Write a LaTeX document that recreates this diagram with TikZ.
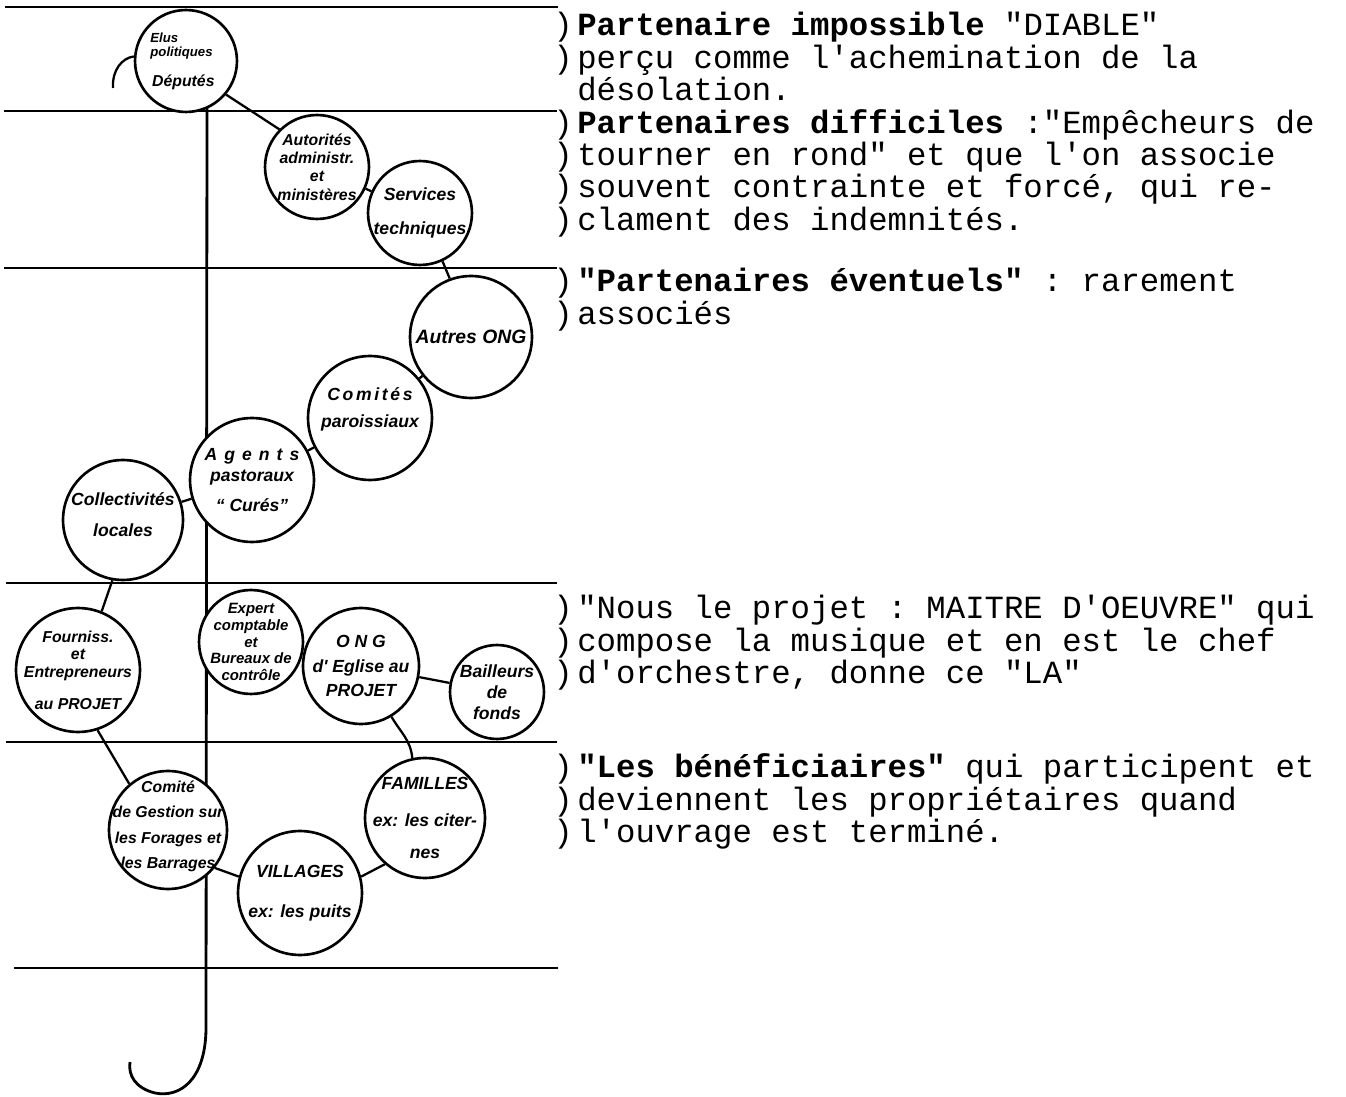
\documentclass[tikz,border=0pt]{standalone}
\usepackage{fontspec}
\setmonofont{Liberation Mono}
\newfontfamily\handfont{Liberation Sans}
\usetikzlibrary{calc}

\tikzset{
  portee/.style={line width=1.6pt},
  bulle/.style={circle, draw, line width=1.5pt, fill=white, inner sep=0pt},
  rayon/.style={minimum size=#1*0.04cm},
  texte/.style={align=center, inner sep=0pt, font=\handfont\bfseries\itshape\fontsize{10}{12}\selectfont},
  taille/.style 2 args={font=\handfont\bfseries\itshape\fontsize{#1}{#2}\selectfont},
  lien/.style={line width=1.3pt},
  ligne/.style={anchor=base west, inner sep=0pt, font=\ttfamily\fontsize{18.4}{18.4}\selectfont},
}
\newcommand{\pf}{\makebox[0.48cm][l]{)}}

\begin{document}
\begin{tikzpicture}[x=0.02cm, y=-0.02cm]
		%%%%% START %%%%%
		\useasboundingbox (0,0) rectangle (1346,1097);
		
		% portee
		\draw[portee] (5,7) -- (558,7);
		\draw[portee] (4,111) -- (557,111);
		\draw[portee] (4,268) -- (557,268);
		\draw[portee] (6,583) -- (557,583);
		\draw[portee] (6,742) -- (557,742);
		\draw[portee] (14,968) -- (558,968);
		
		% tige de la cle
		\draw[portee] (207,108) -- (206,1030) .. controls (205,1080) and (180,1098) .. (155,1093) .. controls (135,1088) and (128,1075) .. (130,1062);
		
		% bulles
		\node[bulle, rayon=51, label={[texte, taille={7.5}{8}, align=left, xshift=-2pt]center:Elus\\politiques\\[8pt]\fontsize{9}{9}\selectfont\hspace*{1pt}Députés}] (elus) at (186,61) {};
		\node[bulle, rayon=52, label={[texte, taille={9}{10.5}]center:Autorités\\administr.\\et\\ministères}] (autor) at (317,167) {};
		\node[bulle, rayon=52, label={[texte]center:Services\\[7pt]techniques}] (serv) at (420,213) {};
		\node[bulle, rayon=61, label={[texte, taille={11}{12}]center:Autres ONG}] (autres) at (471,337) {};
		\node[bulle, rayon=62, label={[texte, yshift=5pt]center:\addfontfeature{LetterSpace=15}Comités\\[3pt]paroissiaux}] (comites) at (370,418) {};
		\node[bulle, rayon=62, label={[texte]center:\addfontfeature{LetterSpace=40}Agents\\pastoraux\\[5pt]“ Curés”}] (agents) at (252,480) {};
		\node[bulle, rayon=60, label={[texte, yshift=3pt]center:Collectivités\\[6pt]locales}] (collec) at (123,520) {};
		\node[bulle, rayon=62, label={[texte, taille={9}{10}]center:Fourniss.\\et\\Entrepreneurs\\[8pt]au PROJET}] (fourn) at (78,670) {};
		\node[bulle, rayon=52, label={[texte, taille={8.5}{9.6}]center:Expert\\comptable\\et\\Bureaux de\\contrôle}] (expert) at (251,642) {};
		\node[bulle, rayon=58, label={[texte]center:O N G\\[2pt]d' Eglise au\\[2pt]PROJET}] (ong) at (361,666) {};
		\node[bulle, rayon=47, label={[texte]center:Bailleurs\\de\\fonds}] (bail) at (497,692) {};
		\node[bulle, rayon=60, label={[texte]center:FAMILLES\\[9pt]ex: les citer-\\[6pt]nes}] (famil) at (425,818) {};
		\node[bulle, rayon=62, label={[texte]center:VILLAGES\\[11pt]ex: les puits}] (villa) at (300,893) {};
		\node[bulle, rayon=59, label={[texte, taille={9}{11}, yshift=2pt]center:Comité\\[3pt]de Gestion sur\\[4pt]les Forages et\\[3pt]les Barrages}] (comite) at (168,830) {};
		
		% liens
		\draw[lien] (elus.175) .. controls (122,58) and (112,70) .. (113,88);
		\draw[lien] (elus.-40) -- (autor.135);
		\draw[lien] (autor) -- (serv);
		\draw[lien] (serv.-65) -- (autres.110);
		\draw[lien] (autres) -- (comites);
		\draw[lien] (comites) -- (agents);
		\draw[lien] (agents) -- (collec);
		\draw[lien] (collec.260) -- (fourn.68);
		\draw[lien] (fourn.-72) -- (comite.130);
		\draw[lien] (expert) -- (ong);
		\draw[lien] (ong) -- (bail);
		\draw[lien] (ong.-59) to[out=-60,in=95] (famil.102);
		\draw[lien] (villa.15) -- (famil.229);
		\draw[lien] (comite.-39) -- (villa.165);
		
		% commentaires
		\node[ligne] (t1) at (553,36) {\pf\textbf{Partenaire impossible} "DIABLE"};
		\node[ligne] (t2) at (553,68.4) {\pf perçu comme l'achemination de la};
		\node[ligne] (t3) at (553,100.8) {\hspace*{0.48cm}désolation.};
		\node[ligne] (t4) at (553,133.2) {\pf\textbf{Partenaires difficiles} :"Empêcheurs de};
		\node[ligne] (t5) at (553,165.6) {\pf tourner en rond" et que l'on associe};
		\node[ligne] (t6) at (553,198) {\pf souvent contrainte et forcé, qui re-};
		\node[ligne] (t7) at (553,230.4) {\pf clament des indemnités.};
		
		\node[ligne] (t8) at (553,292) {\pf\textbf{"Partenaires éventuels"} : rarement};
		\node[ligne] (t9) at (553,324.4) {\pf associés};
		
		\node[ligne] (t10) at (553,619) {\pf"Nous le projet : MAITRE D'OEUVRE" qui};
		\node[ligne] (t11) at (553,651.4) {\pf compose la musique et en est le chef};
		\node[ligne] (t12) at (553,683.8) {\pf d'orchestre, donne ce "LA"};
		
		\node[ligne] (t13) at (553,778) {\pf\textbf{"Les bénéficiaires"} qui participent et};
		\node[ligne] (t14) at (553,810.4) {\pf deviennent les propriétaires quand};
		\node[ligne] (t15) at (553,842.8) {\pf l'ouvrage est terminé.};
		%%%%% END %%%%%
\end{tikzpicture}
\end{document}
